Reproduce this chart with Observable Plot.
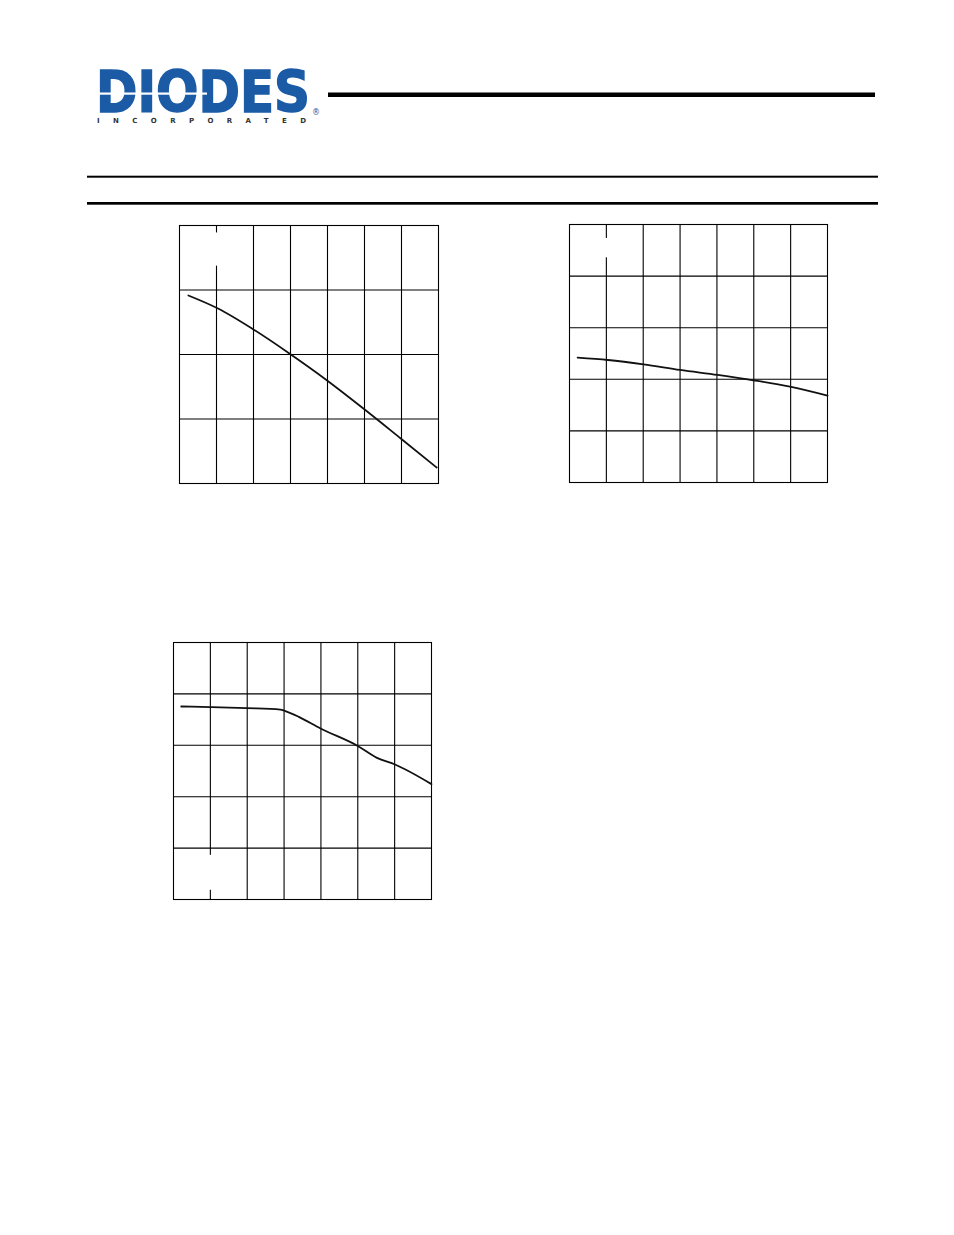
<!DOCTYPE html>
<html><head><meta charset="utf-8">
<script src="https://cdn.jsdelivr.net/npm/d3@7"></script>
<script src="https://cdn.jsdelivr.net/npm/@observablehq/plot@0.6"></script>
<style>
html,body{margin:0;padding:0;background:#fff}
body{width:954px;height:1235px;position:relative;overflow:hidden;font-family:"DejaVu Sans",sans-serif}
.abs{position:absolute}
.abs svg{display:block}
</style></head><body>
<svg class="abs" style="left:0;top:0" width="954" height="215">
  <text x="96" y="111.5" font-family="DejaVu Sans" font-weight="bold" font-size="57" fill="#1b5ba6" stroke="#1b5ba6" stroke-width="1.6" stroke-linejoin="miter" textLength="214" lengthAdjust="spacingAndGlyphs">DIODES</text>
  <rect x="95" y="92.5" width="112" height="2.2" fill="#fff"/>
  <text x="312" y="115" font-family="DejaVu Sans" font-size="8" fill="#1b5ba6">®</text>
  <text x="97" y="122.5" font-family="DejaVu Sans" font-weight="bold" font-size="7" fill="#333" textLength="209" lengthAdjust="spacing">INCORPORATED</text>
  <rect x="328" y="92.5" width="547" height="4.5" fill="#000"/>
  <rect x="87" y="175.7" width="791" height="2" fill="#000"/>
  <rect x="87" y="202" width="791" height="2.7" fill="#000"/>
</svg>
<div id="c1" class="abs" style="left:177px;top:223px"></div>
<div id="c2" class="abs" style="left:567px;top:222px"></div>
<div id="c3" class="abs" style="left:171px;top:640px"></div>
<script>
// grid tick positions (column / row boundaries)
const gridCols = [1, 2, 3, 4, 5, 6];
const rows1 = [1, 2, 3];
const rows2 = [1, 2, 3, 4];

// chart 1 curve
const c1x = [0.24, 1.04, 2.0, 2.97, 3.98, 4.97, 5.98, 6.95];
const c1y = [2.915, 2.713, 2.388, 2.016, 1.602, 1.163, 0.698, 0.248];
// chart 2 curve
const c2x = [0.22, 1.04, 2.01, 3.0, 4.02, 4.99, 5.98, 7.0];
const c2y = [2.419, 2.374, 2.29, 2.181, 2.084, 1.981, 1.858, 1.684];
// chart 3 curve
const c3x = [0.21, 1.0, 1.99, 2.9, 3.02, 3.4, 3.99, 5.01, 5.52, 6.01, 7.0];
const c3y = [3.755, 3.742, 3.722, 3.696, 3.670, 3.554, 3.327, 2.983, 2.756, 2.626, 2.244];

// white label-box areas that interrupt a grid line
const mask1 = {x1: [0.93], x2: [1.12], y1: [3.37], y2: [3.885]};
const mask2 = {x1: [0.93], x2: [1.12], y1: [4.355], y2: [4.73]};
const mask3 = {x1: [0.93], x2: [1.08], y1: [0.18], y2: [0.86]};

function chart(el, xs, ys, nRows, rowTicks, mask, w, h) {
  const pts = xs.map((x, i) => ({x, y: ys[i]}));
  const m = mask.x1.map((_, i) => ({x1: mask.x1[i], x2: mask.x2[i], y1: mask.y1[i], y2: mask.y2[i]}));
  const p = Plot.plot({
    width: w + 4, height: h + 4, margin: 2,
    x: {domain: [0, 7], axis: null},
    y: {domain: [0, nRows], axis: null},
    marks: [
      Plot.ruleX(gridCols, {stroke: "#000", strokeWidth: 1.1}),
      Plot.ruleY(rowTicks, {stroke: "#000", strokeWidth: 1.1}),
      Plot.rect(m, {x1: "x1", x2: "x2", y1: "y1", y2: "y2", fill: "#fff"}),
      Plot.frame({stroke: "#000", strokeWidth: 1.1}),
      Plot.line(pts, {x: "x", y: "y", stroke: "#111", strokeWidth: 1.8, curve: "monotone-x"})
    ]
  });
  document.getElementById(el).appendChild(p);
}
chart("c1", c1x, c1y, 4, rows1, mask1, 259, 258);
chart("c2", c2x, c2y, 5, rows2, mask2, 258, 258);
chart("c3", c3x, c3y, 5, rows2, mask3, 258, 257);
</script>
</body></html>
